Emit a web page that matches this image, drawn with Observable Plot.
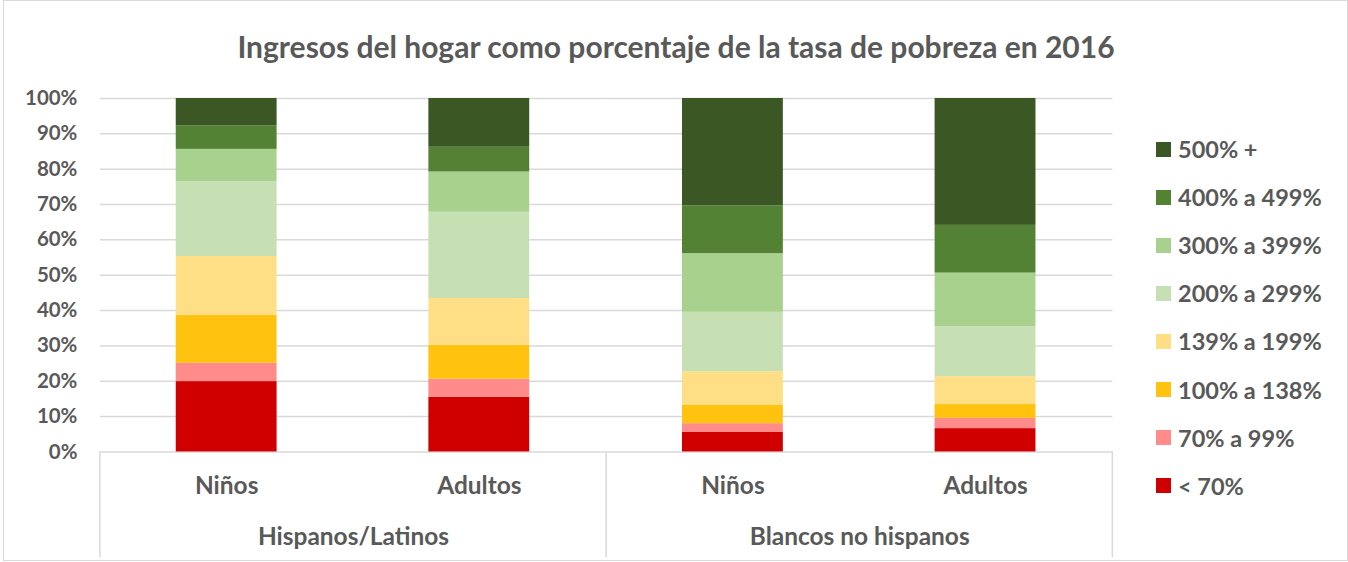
<!DOCTYPE html>
<html>
<head>
<meta charset="utf-8">
<script src="https://cdn.jsdelivr.net/npm/d3@7"></script>
<script src="https://cdn.jsdelivr.net/npm/@observablehq/plot@0.6"></script>
<style>
  html, body { margin: 0; padding: 0; background: #fff; }
  #wrap { position: relative; width: 1343px; height: 559px; left: 3px; top: 0; border: 1px solid #d9d9d9; font-family: Lato, "Open Sans", sans-serif; color: #595959; overflow: hidden; }
  #title { position: absolute; left: 0; top: 27px; width: 1344px; text-align: center; font-size: 30px; font-weight: bold; line-height: 36px; }
  #chart { position: absolute; left: -3px; top: 80px; }
  #legend { position: absolute; left: 1152px; top: 124px; }
  .row { height: 48.1px; display: flex; align-items: center; font-size: 23.5px; font-weight: bold; white-space: nowrap; }
  .sw { width: 15px; height: 15px; margin-right: 7px; flex: none; }
</style>
</head>
<body>
<div id="wrap">
  <div id="title">Ingresos del hogar como porcentaje de la tasa de pobreza en 2016</div>
  <div id="chart"></div>
  <div id="legend"></div>
</div>
<script>
const groups = ["Hispanos/Latinos", "Blancos no hispanos"];
const ages = ["Niños", "Adultos"];
const brackets = ["< 70%", "70% a 99%", "100% a 138%", "139% a 199%", "200% a 299%", "300% a 399%", "400% a 499%", "500% +"];
const colors = ["#d10000", "#ff8b8b", "#ffc20e", "#ffdf85", "#c6e0b4", "#a9d18e", "#548235", "#3a5724"];
const hispanosNinos = [19.9, 5.2, 13.6, 16.6, 21.1, 9.2, 6.6, 7.8];
const hispanosAdultos = [15.5, 5.1, 9.6, 13.2, 24.4, 11.4, 7.0, 13.8];
const blancosNinos = [5.5, 2.5, 5.3, 9.4, 16.8, 16.6, 13.5, 30.4];
const blancosAdultos = [6.6, 2.9, 3.9, 7.9, 14.1, 15.2, 13.5, 35.9];
const yTicks = [0, 10, 20, 30, 40, 50, 60, 70, 80, 90, 100];

const series = [
  {group: groups[0], age: ages[0], values: hispanosNinos},
  {group: groups[0], age: ages[1], values: hispanosAdultos},
  {group: groups[1], age: ages[0], values: blancosNinos},
  {group: groups[1], age: ages[1], values: blancosAdultos}
];
const data = series.flatMap(s => s.values.map((v, i) => ({group: s.group, age: s.age, bracket: brackets[i], value: v})));

const textColor = "#595959";
const chart = Plot.plot({
  width: 1348,
  height: 482,
  marginLeft: 98,
  marginRight: 235,
  marginTop: 17,
  marginBottom: 111,
  style: {fontFamily: "Lato, 'Open Sans', sans-serif", color: textColor, background: "transparent"},
  fx: {domain: groups, padding: 0, axis: null, label: null},
  x: {domain: ages, paddingInner: 0.6, paddingOuter: 0.3, axis: null, label: null},
  y: {domain: [0, 100], axis: null, label: null},
  color: {domain: brackets, range: colors},
  marks: [
    Plot.gridY(yTicks, {stroke: "#d9d9d9", strokeOpacity: 1, strokeWidth: 1.5}),
    Plot.axisY(yTicks, {tickSize: 0, tickPadding: 23, tickFormat: d => d + "%", fontSize: 20.5, fontWeight: "bold", fill: textColor, label: null}),
    Plot.barY(data, {fx: "group", x: "age", y: "value", fill: "bracket", order: brackets}),
    Plot.axisX({tickSize: 0, tickPadding: 25, fontSize: 24.5, fontWeight: "bold", fill: textColor, label: null}),
    Plot.axisFx({anchor: "bottom", tickSize: 0, tickPadding: 76, fontSize: 24.5, fontWeight: "bold", fill: textColor, label: null})
  ]
});
document.getElementById("chart").appendChild(chart);

// group separators drawn from the fx and y scales
const fx = chart.scale("fx");
const ys = chart.scale("y");
const edges = [];
groups.forEach((g, i) => { const x0 = fx.apply(g); edges.push(x0); if (i === groups.length - 1) edges.push(x0 + fx.bandwidth); });
const svg = d3.select(chart);
svg.append("g").selectAll("line").data(edges).join("line")
  .attr("x1", d => d).attr("x2", d => d)
  .attr("y1", ys.apply(0)).attr("y2", 477)
  .attr("stroke", "#d9d9d9").attr("stroke-width", 1.5);

// legend (top to bottom: highest bracket first)
const legend = d3.select("#legend");
brackets.slice().reverse().forEach(b => {
  const row = legend.append("div").attr("class", "row");
  row.append("div").attr("class", "sw").style("background", colors[brackets.indexOf(b)]);
  row.append("span").text(b);
});
</script>
</body>
</html>
